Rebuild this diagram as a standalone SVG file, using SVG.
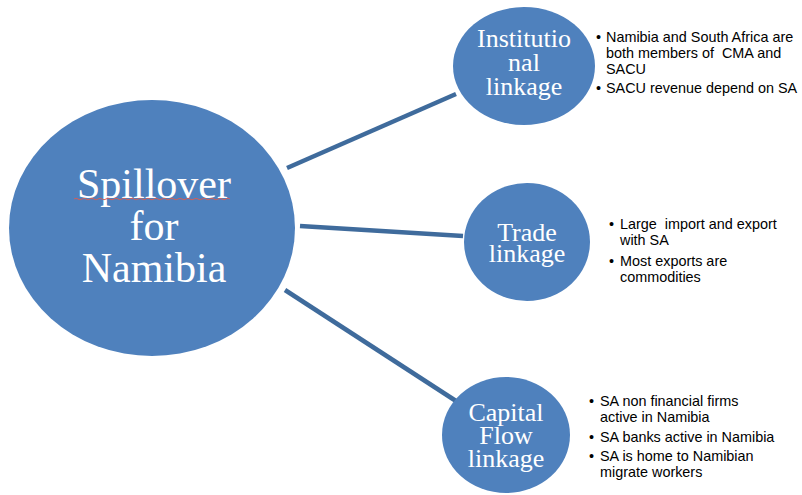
<svg xmlns="http://www.w3.org/2000/svg" width="802" height="495" viewBox="0 0 802 495">
<style>
.node{fill:#4f81bd;}
.conn{stroke:#3f6b9c;stroke-width:4.5;fill:none;}
.t{font-family:"Liberation Serif","Times New Roman",serif;fill:#ffffff;text-anchor:middle;}
.b{font-family:"Liberation Sans",Arial,sans-serif;font-size:14.4px;fill:#000000;}
</style>
<rect width="802" height="495" fill="#ffffff"/>
<g id="connectors">
<line class="conn" x1="287" y1="168" x2="456" y2="94"/>
<line class="conn" x1="300" y1="226" x2="463" y2="236"/>
<line class="conn" x1="285" y1="290" x2="456" y2="401"/>
</g>
<g id="spillover">
<ellipse class="node" cx="152" cy="228" rx="143" ry="128"/>
<text class="t" font-size="42"><tspan x="154" y="198">Spillover</tspan><tspan x="154" y="240">for</tspan><tspan x="154" y="282">Namibia</tspan></text>
<path d="M74 199 q2 -1.5 4 0 t4 0 t4 0 t4 0 t4 0 t4 0 t4 0 t4 0 t4 0 t4 0 t4 0 t4 0 t4 0 t4 0 t4 0 t4 0 t4 0 t4 0 t4 0 t4 0 t4 0 t4 0 t4 0 t4 0 t4 0 t4 0 t4 0 t4 0 t4 0 t4 0 t4 0 t4 0 t4 0 t4 0 t4 0 t4 0 t4 0 t4 0 t4 0" stroke="#d0605c" stroke-width="1" fill="none"/>
</g>
<g id="institutional">
<ellipse class="node" cx="524" cy="66" rx="71" ry="59"/>
<text class="t" font-size="26"><tspan x="524" y="47">Institutio</tspan><tspan x="524" y="71">nal</tspan><tspan x="524" y="95">linkage</tspan></text>
<text class="b"><tspan x="596" y="42">•</tspan><tspan x="606" y="42">Namibia and South Africa are</tspan><tspan x="606" y="58">both members of&#160; CMA and</tspan><tspan x="606" y="74">SACU</tspan><tspan x="596" y="93">•</tspan><tspan x="606" y="93">SACU revenue depend on SA</tspan></text>
</g>
<g id="trade">
<ellipse class="node" cx="527" cy="242" rx="63" ry="59"/>
<text class="t" font-size="26"><tspan x="527" y="241">Trade</tspan><tspan x="527" y="262">linkage</tspan></text>
<text class="b"><tspan x="609" y="229">•</tspan><tspan x="620" y="229">Large&#160; import and export</tspan><tspan x="620" y="245">with SA</tspan><tspan x="609" y="266">•</tspan><tspan x="620" y="266">Most exports are</tspan><tspan x="620" y="282">commodities</tspan></text>
</g>
<g id="capital">
<ellipse class="node" cx="506" cy="435" rx="64" ry="58"/>
<text class="t" font-size="26"><tspan x="506" y="421">Capital</tspan><tspan x="506" y="444">Flow</tspan><tspan x="506" y="467">linkage</tspan></text>
<text class="b"><tspan x="589" y="406">•</tspan><tspan x="600" y="406">SA non financial firms</tspan><tspan x="600" y="422">active in Namibia</tspan><tspan x="589" y="442">•</tspan><tspan x="600" y="442">SA banks active in Namibia</tspan><tspan x="589" y="461">•</tspan><tspan x="600" y="461">SA is home to Namibian</tspan><tspan x="600" y="477">migrate workers</tspan></text>
</g>
</svg>
